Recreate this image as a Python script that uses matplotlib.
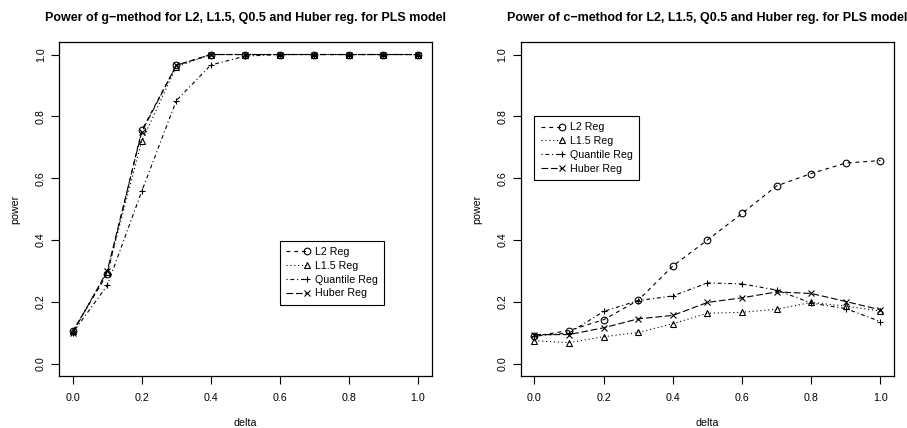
import matplotlib
matplotlib.use('Agg')
import matplotlib.pyplot as plt
from matplotlib.legend_handler import HandlerLine2D

plt.rcParams['font.family'] = ['Liberation Sans', 'DejaVu Sans']

# delta values (x axis)
delta = [0.0, 0.1, 0.2, 0.3, 0.4, 0.5, 0.6, 0.7, 0.8, 0.9, 1.0]

# g-method power
g_l2 = [0.105, 0.29, 0.755, 0.965, 1.0, 1.0, 1.0, 1.0, 1.0, 1.0, 1.0]
g_l15 = [0.105, 0.295, 0.72, 0.96, 1.0, 1.0, 1.0, 1.0, 1.0, 1.0, 1.0]
g_quant = [0.10, 0.253, 0.558, 0.851, 0.966, 0.995, 1.0, 1.0, 1.0, 1.0, 1.0]
g_huber = [0.10, 0.30, 0.75, 0.965, 1.0, 1.0, 1.0, 1.0, 1.0, 1.0, 1.0]

# c-method power
c_l2 = [0.089, 0.107, 0.142, 0.205, 0.316, 0.40, 0.486, 0.575, 0.615, 0.649, 0.657]
c_l15 = [0.074, 0.068, 0.087, 0.101, 0.129, 0.163, 0.166, 0.176, 0.198, 0.186, 0.170]
c_quant = [0.089, 0.099, 0.169, 0.204, 0.219, 0.261, 0.258, 0.238, 0.196, 0.178, 0.136]
c_huber = [0.094, 0.094, 0.116, 0.145, 0.156, 0.198, 0.213, 0.232, 0.227, 0.201, 0.174]

labels = ['L2 Reg', 'L1.5 Reg', 'Quantile Reg', 'Huber Reg']
markers = ['o', '^', '+', 'x']
# R lty 2..5
styles = [(0, (3.5, 3.5)), (0, (1, 2.5)), (0, (1, 2.5, 3.5, 2.5)), (0, (6, 2.5))]
FS = 7.7


class EndMarker(HandlerLine2D):
    # R legend look: line then symbol at its right end
    def create_artists(self, legend, orig_handle, xdescent, ydescent,
                       width, height, fontsize, trans):
        arts = super().create_artists(legend, orig_handle, xdescent, ydescent,
                                      width, height, fontsize, trans)
        arts[0].set_markevery([2])
        return arts


def panel(ax, series, title, legend_anchor):
    for ys, lab, mk, ls in zip(series, labels, markers, styles):
        ax.plot(delta, ys, color='black', linestyle=ls, linewidth=0.8,
                marker=mk, markersize=4.8, markerfacecolor='none',
                markeredgewidth=0.8, label=lab)
    ax.set_xlim(-0.04, 1.04)
    ax.set_ylim(-0.04, 1.04)
    ax.set_xticks([0.0, 0.2, 0.4, 0.6, 0.8, 1.0])
    ax.set_yticks([0.0, 0.2, 0.4, 0.6, 0.8, 1.0])
    ax.set_xticklabels(['0.0', '0.2', '0.4', '0.6', '0.8', '1.0'])
    ax.set_yticklabels(['0.0', '0.2', '0.4', '0.6', '0.8', '1.0'],
                       rotation=90, va='center')
    ax.tick_params(direction='out', length=5.5, width=0.8, labelsize=FS,
                   color='black')
    ax.tick_params(axis='x', pad=6.5)
    ax.tick_params(axis='y', pad=4)
    for s in ax.spines.values():
        s.set_linewidth(0.9)
    ax.set_xlabel('delta', fontsize=FS, labelpad=11)
    ax.set_ylabel('power', fontsize=FS, labelpad=11)
    ax.set_title(title, fontsize=9, fontweight='bold', pad=15)
    handler = {h: EndMarker(numpoints=1) for h in ax.get_lines()}
    leg = ax.legend(loc='upper left', bbox_to_anchor=legend_anchor,
                    borderaxespad=0, fontsize=FS, handlelength=2.0,
                    handletextpad=0.7, labelspacing=0.35, borderpad=0.6,
                    fancybox=False, framealpha=1, edgecolor='black',
                    handler_map=handler)
    leg.get_frame().set_linewidth(0.8)


fig = plt.figure(figsize=(9.07, 4.28), dpi=100)
ax1 = fig.add_axes([0.065, 0.1215, 0.411, 0.780])
ax2 = fig.add_axes([0.574, 0.1215, 0.412, 0.780])

panel(ax1, [g_l2, g_l15, g_quant, g_huber],
      'Power of g\u2212method for L2, L1.5, Q0.5 and Huber reg. for PLS model',
      (0.592, 0.405))
panel(ax2, [c_l2, c_l15, c_quant, c_huber],
      'Power of c\u2212method for L2, L1.5, Q0.5 and Huber reg. for PLS model',
      (0.037, 0.779))

fig.savefig('out.png', dpi=100)
